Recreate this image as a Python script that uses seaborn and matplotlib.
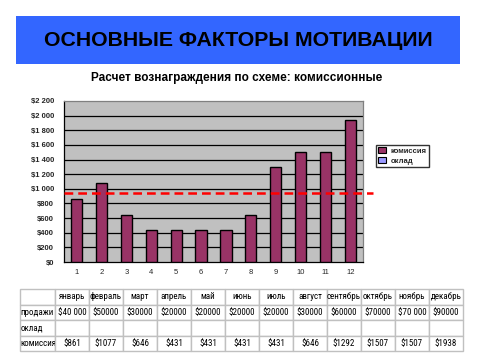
import numpy as np
import pandas as pd
import matplotlib
matplotlib.use("Agg")
import matplotlib.pyplot as plt
import seaborn as sns
from matplotlib.patches import Patch, Rectangle
from matplotlib import font_manager

sns.set_theme(style="white")
plt.rcParams['font.family'] = ['Liberation Sans', 'DejaVu Sans']

title = "ОСНОВНЫЕ ФАКТОРЫ МОТИВАЦИИ"
subtitle = "Расчет вознаграждения по схеме: комиссионные"
month_nums = [str(i) for i in range(1, 13)]
months = ["январь", "февраль", "март", "апрель", "май", "июнь", "июль",
          "август", "сентябрь", "октябрь", "ноябрь", "декабрь"]
sales_labels = ["$40 000", "$50000", "$30000", "$20000", "$20000", "$20000",
                "$20000", "$30000", "$60000", "$70000", "$70 000", "$90000"]
commission = [861, 1077, 646, 431, 431, 431, 431, 646, 1292, 1507, 1507, 1938]
commission_labels = ["$861", "$1077", "$646", "$431", "$431", "$431", "$431",
                     "$646", "$1292", "$1507", "$1507", "$1938"]
row_labels = ["продажи", "оклад", "комиссия"]
series_names = ["комиссия", "оклад"]
threshold = 940
yticks = list(range(0, 2201, 200))
ytick_labels = ["$0", "$200", "$400", "$600", "$800", "$1 000", "$1 200",
                "$1 400", "$1 600", "$1 800", "$2 000", "$2 200"]

BAR = "#993366"
OKLAD = "#9999FF"
W, H = 480, 360

names = {f.name for f in font_manager.fontManager.ttflist}
narrow = [n for n in ["Liberation Sans Narrow", "DejaVu Sans Condensed",
                      "Roboto Condensed", "Open Sans Condensed"] if n in names]
table_family = (narrow[:1] or ["Liberation Sans"]) + ["DejaVu Sans"]
table_size = 6.5 if narrow else 5.3

fig = plt.figure(figsize=(4.8, 3.6), dpi=100)
fig.patch.set_facecolor("white")

def fx(px):
    return px / W

def fy(py):
    return 1 - py / H

# Title banner
fig.patches.append(Rectangle((fx(16), fy(64)), fx(460) - fx(16), fy(16) - fy(64),
                             transform=fig.transFigure, facecolor="#3366FF",
                             edgecolor="none", zorder=0))
fig.text(fx(238), fy(41), title, ha="center", va="center", fontsize=15.3,
         fontweight="bold", color="black")
fig.text(fx(237), fy(78), subtitle, ha="center", va="center", fontsize=8.5,
         fontweight="bold", color="black")

# Chart
ax = fig.add_axes([fx(64), fy(262), fx(363) - fx(64), fy(101) - fy(262)])
df = pd.DataFrame({"month": month_nums, "value": commission})
sns.barplot(data=df, x="month", y="value", color=BAR, edgecolor="black",
            linewidth=1.0, width=0.45, saturation=1, ax=ax, zorder=3)
ax.set_facecolor("#C0C0C0")
ax.set_ylim(0, 2200)
ax.set_xlim(-0.5, 11.5)
ax.set_yticks(yticks)
ax.set_yticklabels(ytick_labels, fontsize=5.5, fontweight="bold")
for yv in yticks[1:-1]:
    ax.axhline(yv, color="black", linewidth=0.9, zorder=1)
ax.set_xticks(np.arange(-0.5, 12, 1))
ax.set_xticklabels([])
ax.set_xticks(range(12), minor=True)
ax.set_xticklabels(month_nums, minor=True, fontsize=5.5)
ax.tick_params(axis="x", which="major", direction="out", length=4, color="black", width=0.8)
ax.tick_params(axis="x", which="minor", length=0, pad=5)
ax.tick_params(axis="y", direction="out", length=4, color="black", width=0.8, pad=3)
ax.set_xlabel("")
ax.set_ylabel("")
for s in ["left", "bottom"]:
    ax.spines[s].set_color("black")
    ax.spines[s].set_linewidth(0.9)
for s in ["top", "right"]:
    ax.spines[s].set_color("#808080")
    ax.spines[s].set_linewidth(0.9)

ax.plot([0.0, 1.035], [threshold, threshold], color="#FF0000", linewidth=1.8,
        linestyle=(0, (3.5, 2)), transform=ax.get_yaxis_transform(),
        clip_on=False, zorder=5)

handles = [Patch(facecolor=BAR, edgecolor="black", linewidth=0.8),
           Patch(facecolor=OKLAD, edgecolor="black", linewidth=0.8)]
leg = fig.legend(handles, series_names, loc="upper left",
                 bbox_to_anchor=(fx(376), fy(145)), frameon=True, fontsize=5.5,
                 handlelength=1.0, handleheight=0.8, handletextpad=0.6,
                 borderpad=0.3, labelspacing=0.3, borderaxespad=0,
                 fancybox=False)
leg.get_frame().set_edgecolor("black")
leg.get_frame().set_linewidth(1.0)
for t in leg.get_texts():
    t.set_fontweight("bold")

# Table
tax = fig.add_axes([fx(20), fy(351), fx(463) - fx(20), fy(289) - fy(351)])
tax.axis("off")
cell_text = [[""] + months,
             [row_labels[0]] + sales_labels,
             [row_labels[1]] + [""] * 12,
             [row_labels[2]] + commission_labels]
first_w = 35
col_w = 34
total = first_w + 12 * col_w
widths = [first_w / total] + [col_w / total] * 12
tbl = tax.table(cellText=cell_text, colWidths=widths, bbox=[0, 0, 1, 1],
                cellLoc="center")
tbl.auto_set_font_size(False)
for (r, c), cell in tbl.get_celld().items():
    cell.set_edgecolor("#C0C0C0")
    cell.set_linewidth(1.0)
    cell.set_facecolor("white")
    txt = cell.get_text()
    txt.set_fontsize(table_size)
    txt.set_fontfamily(table_family)
    txt.set_color("black")
    if c == 0:
        txt.set_ha("left")
        cell.PAD = 0.02

fig.savefig("out.png", dpi=100, facecolor="white")
